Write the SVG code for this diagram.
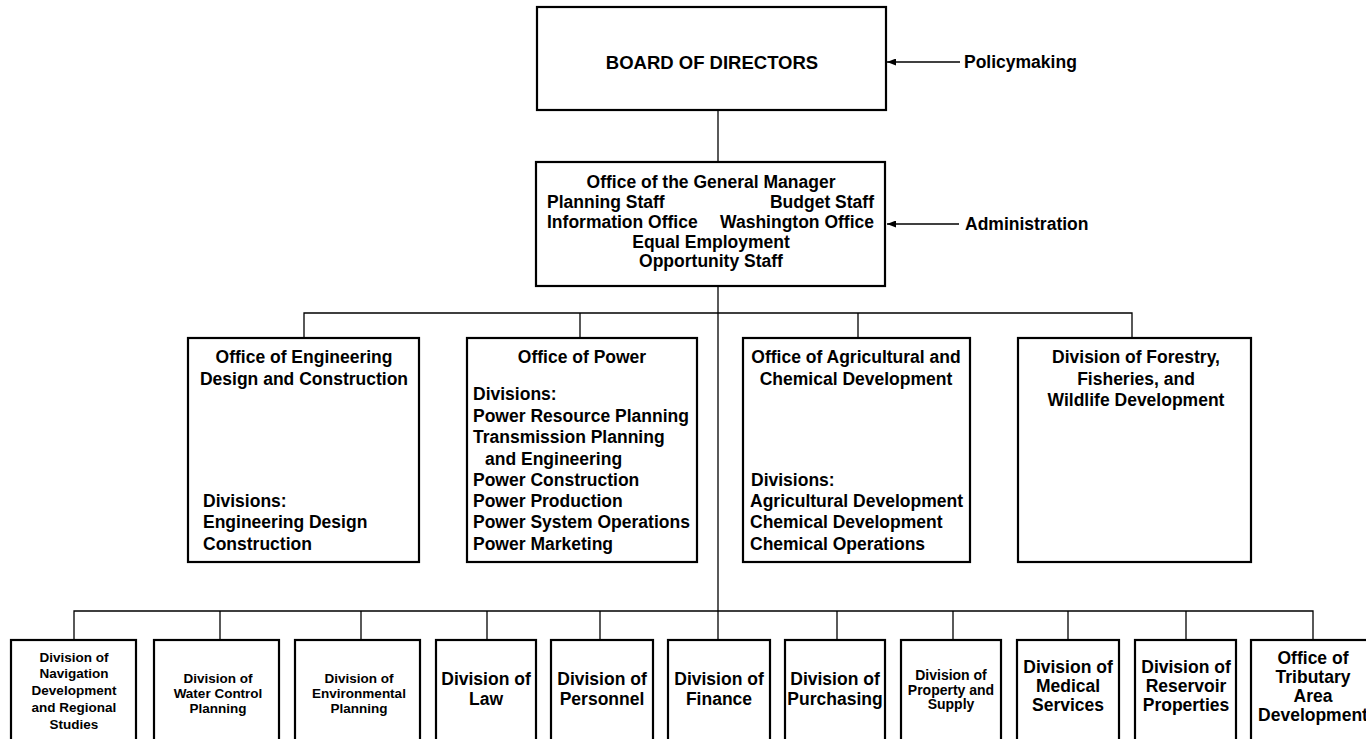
<svg xmlns="http://www.w3.org/2000/svg" width="1366" height="739" viewBox="0 0 1366 739">
<style>
.box{fill:#fff;stroke:#000;stroke-width:2.2}
.ln{fill:none;stroke:#000;stroke-width:1.3}
text{font-family:"Liberation Sans",Arial,sans-serif;font-weight:bold;fill:#000}
.t{font-size:17.5px}
.b{font-size:18.5px}
.s{font-size:13.5px}
.p{font-size:14px}
.c{text-anchor:middle}
.e{text-anchor:end}
</style>
<defs>
<marker id="ah" viewBox="0 0 9 7" refX="9" refY="3.5" markerWidth="9" markerHeight="7" markerUnits="userSpaceOnUse" orient="auto">
<path d="M0,0 L9,3.5 L0,7 Z" fill="#000"/>
</marker>
</defs>
<rect width="1366" height="739" fill="#fff"/>
<g id="connectors">
<line class="ln" x1="718" y1="110" x2="718" y2="162"/>
<line class="ln" x1="718" y1="286" x2="718" y2="640"/>
<polyline class="ln" points="304,338 304,313 1132,313 1132,338"/>
<line class="ln" x1="580" y1="313" x2="580" y2="338"/>
<line class="ln" x1="858" y1="313" x2="858" y2="338"/>
<polyline class="ln" points="74,640 74,611 1313,611 1313,640"/>
<line class="ln" x1="220" y1="611" x2="220" y2="640"/>
<line class="ln" x1="361" y1="611" x2="361" y2="640"/>
<line class="ln" x1="487" y1="611" x2="487" y2="640"/>
<line class="ln" x1="600" y1="611" x2="600" y2="640"/>
<line class="ln" x1="837" y1="611" x2="837" y2="640"/>
<line class="ln" x1="953" y1="611" x2="953" y2="640"/>
<line class="ln" x1="1068" y1="611" x2="1068" y2="640"/>
<line class="ln" x1="1186" y1="611" x2="1186" y2="640"/>
<line class="ln" x1="960" y1="62" x2="887" y2="62" marker-end="url(#ah)"/>
<line class="ln" x1="959" y1="224" x2="887" y2="224" marker-end="url(#ah)"/>
</g>
<g id="board">
<rect class="box" x="537" y="7" width="349" height="103"/>
<text class="b c" x="712" y="69">BOARD OF DIRECTORS</text>
</g>
<g id="policymaking">
<text class="t" x="964" y="68">Policymaking</text>
</g>
<g id="general-manager">
<rect class="box" x="536" y="162" width="349" height="124"/>
<text class="t c" x="711" y="188">Office of the General Manager</text>
<text class="t" x="547" y="208">Planning Staff</text>
<text class="t e" x="874" y="208">Budget Staff</text>
<text class="t" x="547" y="228">Information Office</text>
<text class="t e" x="874" y="228">Washington Office</text>
<text class="t c" x="711" y="248">Equal Employment</text>
<text class="t c" x="711" y="267">Opportunity Staff</text>
</g>
<g id="administration">
<text class="t" x="965" y="230">Administration</text>
</g>
<g id="engineering">
<rect class="box" x="188" y="338" width="231" height="224"/>
<text class="t c" x="304" y="363">Office of Engineering</text>
<text class="t c" x="304" y="385">Design and Construction</text>
<text class="t" x="203" y="507">Divisions:</text>
<text class="t" x="203" y="528">Engineering Design</text>
<text class="t" x="203" y="550">Construction</text>
</g>
<g id="power">
<rect class="box" x="467" y="338" width="230" height="224"/>
<text class="t c" x="582" y="363">Office of Power</text>
<text class="t" x="473" y="400">Divisions:</text>
<text class="t" x="473" y="422">Power Resource Planning</text>
<text class="t" x="473" y="443">Transmission Planning</text>
<text class="t" x="485" y="465">and Engineering</text>
<text class="t" x="473" y="486">Power Construction</text>
<text class="t" x="473" y="507">Power Production</text>
<text class="t" x="473" y="528">Power System Operations</text>
<text class="t" x="473" y="550">Power Marketing</text>
</g>
<g id="agricultural">
<rect class="box" x="743" y="338" width="227" height="224"/>
<text class="t c" x="856" y="363">Office of Agricultural and</text>
<text class="t c" x="856" y="385">Chemical Development</text>
<text class="t" x="751" y="486">Divisions:</text>
<text class="t" x="750" y="507">Agricultural Development</text>
<text class="t" x="750" y="528">Chemical Development</text>
<text class="t" x="750" y="550">Chemical Operations</text>
</g>
<g id="forestry">
<rect class="box" x="1018" y="338" width="233" height="224"/>
<text class="t c" x="1136" y="363">Division of Forestry,</text>
<text class="t c" x="1136" y="385">Fisheries, and</text>
<text class="t c" x="1136" y="406">Wildlife Development</text>
</g>
<g id="navigation">
<rect class="box" x="11" y="640" width="125" height="104"/>
<text class="s c" x="74" y="662">Division of</text>
<text class="s c" x="74" y="678">Navigation</text>
<text class="s c" x="74" y="695">Development</text>
<text class="s c" x="74" y="712">and Regional</text>
<text class="s c" x="74" y="729">Studies</text>
</g>
<g id="water-control">
<rect class="box" x="154" y="640" width="125" height="104"/>
<text class="s c" x="218" y="683">Division of</text>
<text class="s c" x="218" y="698">Water Control</text>
<text class="s c" x="218" y="713">Planning</text>
</g>
<g id="environmental">
<rect class="box" x="295" y="640" width="125" height="104"/>
<text class="s c" x="359" y="683">Division of</text>
<text class="s c" x="359" y="698">Environmental</text>
<text class="s c" x="359" y="713">Planning</text>
</g>
<g id="law">
<rect class="box" x="436" y="640" width="100" height="104"/>
<text class="t c" x="486" y="685">Division of</text>
<text class="t c" x="486" y="705">Law</text>
</g>
<g id="personnel">
<rect class="box" x="551" y="640" width="102" height="104"/>
<text class="t c" x="602" y="685">Division of</text>
<text class="t c" x="602" y="705">Personnel</text>
</g>
<g id="finance">
<rect class="box" x="668" y="640" width="102" height="104"/>
<text class="t c" x="719" y="685">Division of</text>
<text class="t c" x="719" y="705">Finance</text>
</g>
<g id="purchasing">
<rect class="box" x="785" y="640" width="100" height="104"/>
<text class="t c" x="835" y="685">Division of</text>
<text class="t c" x="835" y="705">Purchasing</text>
</g>
<g id="property">
<rect class="box" x="901" y="640" width="100" height="104"/>
<text class="p c" x="951" y="680">Division of</text>
<text class="p c" x="951" y="695">Property and</text>
<text class="p c" x="951" y="709">Supply</text>
</g>
<g id="medical">
<rect class="box" x="1017" y="640" width="102" height="104"/>
<text class="t c" x="1068" y="673">Division of</text>
<text class="t c" x="1068" y="692">Medical</text>
<text class="t c" x="1068" y="711">Services</text>
</g>
<g id="reservoir">
<rect class="box" x="1135" y="640" width="101" height="104"/>
<text class="t c" x="1186" y="673">Division of</text>
<text class="t c" x="1186" y="692">Reservoir</text>
<text class="t c" x="1186" y="711">Properties</text>
</g>
<g id="tributary">
<rect class="box" x="1251" y="640" width="124" height="104"/>
<text class="t c" x="1313" y="664">Office of</text>
<text class="t c" x="1313" y="683">Tributary</text>
<text class="t c" x="1313" y="702">Area</text>
<text class="t c" x="1313" y="721">Development</text>
</g>
</svg>
